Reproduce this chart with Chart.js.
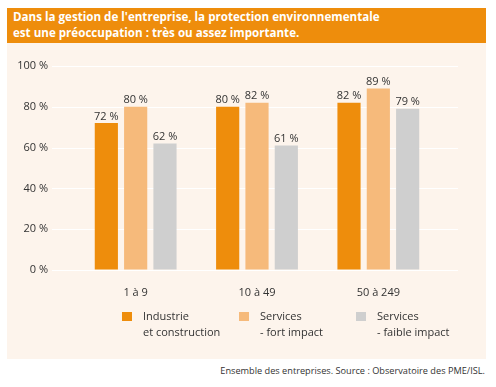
<!DOCTYPE html>
<html><head><meta charset="utf-8">
<script src="https://cdn.jsdelivr.net/npm/chart.js@4/dist/chart.umd.min.js"></script>
<style>
html,body{margin:0;padding:0;background:#fff;width:496px;height:387px;overflow:hidden;}
#hdr{position:absolute;left:7px;top:8px;height:35px;padding-left:6px;background:#ee8d0c;color:#fff;font:bold 11.6px "Open Sans",sans-serif;line-height:16px;padding-top:1px;box-sizing:border-box;width:479px;}
#panel{position:absolute;left:7px;top:43px;width:479px;height:316px;background:#fdf4ec;}
#ftr{position:absolute;right:11px;top:364px;font:9.2px "Open Sans",sans-serif;color:#333;white-space:nowrap;}
canvas{display:block;}
</style></head><body>
<div id="hdr">Dans la gestion de l'entreprise, la protection environnementale<br>est une préoccupation : très ou assez importante.</div>
<div id="panel"><canvas id="c" width="479" height="316"></canvas></div>
<div id="ftr">Ensemble des entreprises. Source : Observatoire des PME/ISL.</div>
<script>
const categories = ["1 à 9", "10 à 49", "50 à 249"];
const industrie = [72, 80, 82];
const servicesFort = [80, 82, 89];
const servicesFaible = [62, 61, 79];
const seriesLabels = [["Industrie","et construction"],["Services","- fort impact"],["Services","- faible impact"]];
const yTicks = [0, 20, 40, 60, 80, 100];

const gridPlugin = {
  id:'gridExt',
  beforeDatasetsDraw(chart){
    const ctx = chart.ctx, y = chart.scales.y;
    ctx.save();
    ctx.strokeStyle = '#ffffff'; ctx.lineWidth = 1;
    yTicks.forEach(v=>{
      const py = Math.round(y.getPixelForValue(v)) + 0.5;
      ctx.beginPath(); ctx.moveTo(45, py); ctx.lineTo(451, py); ctx.stroke();
    });
    ctx.restore();
  }
};
const labelPlugin = {
  id:'valLabels',
  afterDatasetsDraw(chart){
    const ctx = chart.ctx;
    ctx.save();
    ctx.font = '11px "Open Sans", sans-serif';
    ctx.fillStyle = '#333'; ctx.textAlign='center'; ctx.textBaseline='bottom';
    chart.data.datasets.forEach((ds,i)=>{
      chart.getDatasetMeta(i).data.forEach((bar,j)=>{
        ctx.fillText(ds.data[j] + ' %', bar.x, bar.y - 1);
      });
    });
    ctx.restore();
  }
};
const legendPlugin = {
  id:'customLegend',
  afterDraw(chart){
    const ctx = chart.ctx;
    ctx.save();
    ctx.font = '11px "Open Sans", sans-serif';
    ctx.textBaseline='middle'; ctx.textAlign='left';
    const xs = [115, 232, 349];
    chart.data.datasets.forEach((ds,i)=>{
      ctx.fillStyle = ds.backgroundColor;
      ctx.fillRect(xs[i], 269, 10, 9);
      ctx.fillStyle = '#333';
      const lines = seriesLabels[i];
      lines.forEach((t,k)=> ctx.fillText(t, xs[i] + 21, 274 + k*15.5));
    });
    ctx.restore();
  }
};

new Chart(document.getElementById('c'), {
  type:'bar',
  data:{
    labels: categories,
    datasets:[
      {label:'Industrie et construction', data: industrie, backgroundColor:'#ee8d0c'},
      {label:'Services - fort impact', data: servicesFort, backgroundColor:'#f6ba7b'},
      {label:'Services - faible impact', data: servicesFaible, backgroundColor:'#cfcfcf'}
    ]
  },
  options:{
    responsive:false, animation:false,
    devicePixelRatio:1,
    categoryPercentage:0.725, barPercentage:0.79,
    layout:{padding:{left:0, right:47, top:23, bottom:60}},
    plugins:{legend:{display:false}, tooltip:{enabled:false}},
    scales:{
      x:{
        grid:{display:false}, border:{display:false},
        ticks:{font:{family:'"Open Sans", sans-serif', size:11}, color:'#333', padding:8},
        afterFit(s){ s.height = 29; }
      },
      y:{
        min:0, max:100,
        grid:{display:true, drawOnChartArea:false, drawTicks:true, tickLength:23, color:'rgba(0,0,0,0)'},
        border:{display:false},
        afterBuildTicks(s){ s.ticks = yTicks.map(v=>({value:v})); },
        ticks:{font:{family:'"Open Sans", sans-serif', size:11}, color:'#333', padding:4,
          callback:(v)=> v + ' %'},
        afterFit(s){ s.width = 68; }
      }
    }
  },
  plugins:[gridPlugin, labelPlugin, legendPlugin]
});
</script>
</body></html>
